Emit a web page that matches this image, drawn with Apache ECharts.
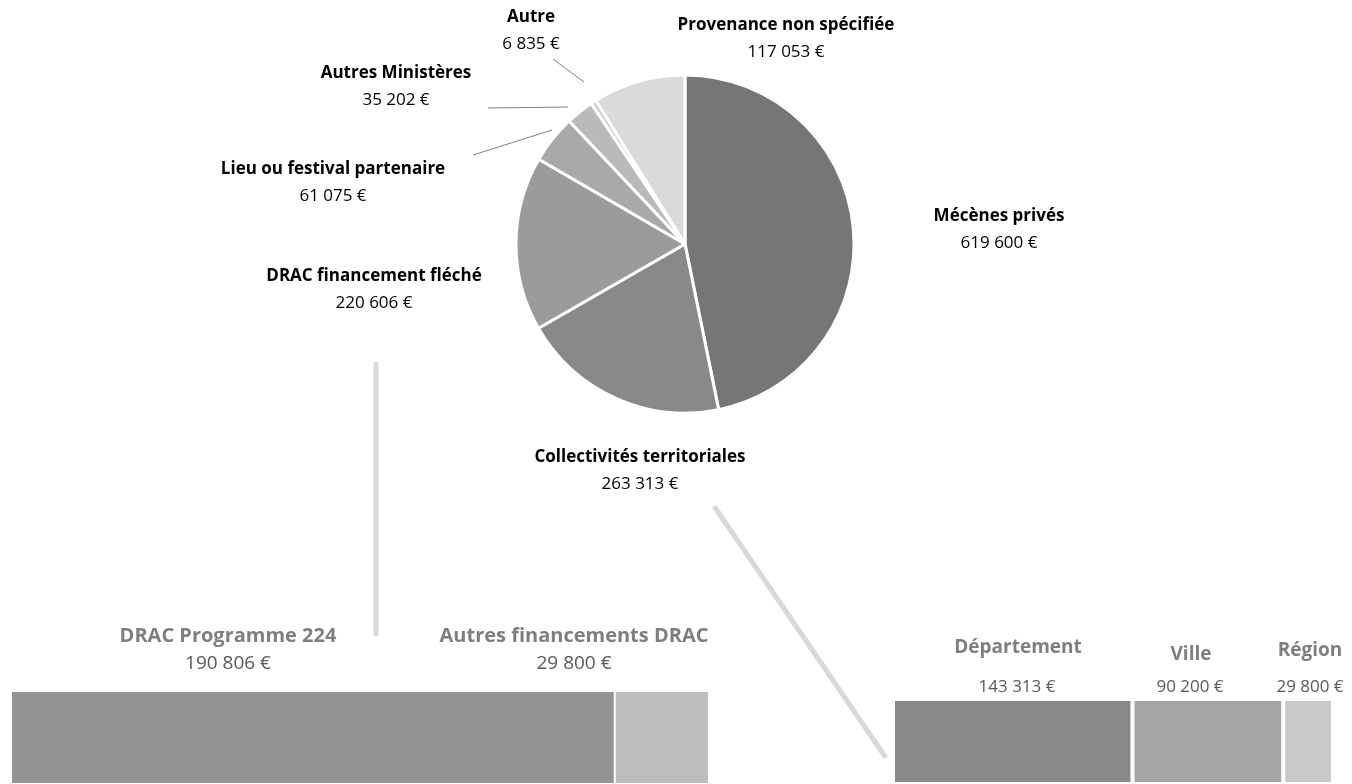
<!DOCTYPE html>
<html>
<head>
<meta charset="utf-8">
<script src="https://cdn.jsdelivr.net/npm/echarts@6/dist/echarts.min.js"></script>
<style>
  html, body { margin: 0; padding: 0; background: #fff; }
  #chart { width: 1352px; height: 784px; }
</style>
</head>
<body>
<div id="chart"></div>
<script>
// pie : sources de financement
const pieNames = ['Mécènes privés', 'Collectivités territoriales', 'DRAC financement fléché',
  'Lieu ou festival partenaire', 'Autres Ministères', 'Autre', 'Provenance non spécifiée'];
const pieValues = [619600, 263313, 220606, 61075, 35202, 6835, 117053];

// détail DRAC
const dracNames = ['DRAC Programme 224', 'Autres financements DRAC'];
const dracValues = [190806, 29800];

// détail collectivités
const collNames = ['Département', 'Ville', 'Région'];
const collValues = [143313, 90200, 29800];

// couleurs / positions des libellés (mise en page uniquement)
const pieColors = ['#767676', '#898989', '#9b9b9b', '#a9a9a9', '#bababa', '#c9c9c9', '#dadada'];
const pieLabelPos = [
  [999, 203], [640, 444], [374, 263], [333, 156], [396, 60], [531, 4], [786, 12]
];
const pieLabelLines = {
  3: [[552, 130], [473, 155]],
  4: [[568, 107], [488, 108]],
  5: [[584, 82], [553, 59]]
};
const dracColors = ['#939393', '#bdbdbd'];
const dracLabelPos = [[228, 623], [574, 623]];
const collColors = ['#898989', '#a5a5a5', '#c9c9c9'];
const collLabelPos = [[1018, 648], [1191, 655], [1310, 651]];
const collValuePos = [[1017, 687], [1190, 687], [1310, 687]];

const FONT = 'Open Sans';

function euro(v) {
  return String(v).replace(/\B(?=(\d{3})+(?!\d))/g, ' ') + ' €';
}

const myChart = echarts.init(document.getElementById('chart'));

function barSeries(names, values, colors, gridIndex, labelFn, layoutFn) {
  return names.map((name, i) => ({
    name: name,
    type: 'bar',
    stack: 'total' + gridIndex,
    xAxisIndex: gridIndex,
    yAxisIndex: gridIndex,
    barWidth: '100%',
    silent: true,
    itemStyle: { color: colors[i], borderColor: '#fff', borderWidth: gridIndex === 0 ? 1 : 2 },
    label: labelFn(name, values[i]),
    labelLayout: layoutFn(i),
    data: [values[i]]
  }));
}

const option = {
  animation: false,
  textStyle: { fontFamily: FONT },
  grid: [
    { left: 11, top: 691, width: 698, height: 140 },
    { left: 893, top: 699, width: 440, height: 140 }
  ],
  xAxis: [
    { gridIndex: 0, type: 'value', min: 0, max: dracValues.reduce((a, b) => a + b, 0), show: false },
    { gridIndex: 1, type: 'value', min: 0, max: collValues.reduce((a, b) => a + b, 0), show: false }
  ],
  yAxis: [
    { gridIndex: 0, type: 'category', data: ['DRAC'], show: false },
    { gridIndex: 1, type: 'category', data: ['Collectivités'], show: false }
  ],
  graphic: [
    { type: 'line', silent: true, shape: { x1: 376, y1: 362, x2: 376, y2: 636 },
      style: { stroke: '#d9d9d9', lineWidth: 5 } },
    { type: 'line', silent: true, shape: { x1: 714, y1: 506, x2: 886, y2: 758 },
      style: { stroke: '#d9d9d9', lineWidth: 5 } },
    ...collNames.map((n, i) => ({
      type: 'text', silent: true, x: collValuePos[i][0], y: collValuePos[i][1],
      style: { text: euro(collValues[i]), fill: '#595959', font: '17px "' + FONT + '"',
        align: 'center', verticalAlign: 'middle' }
    }))
  ],
  series: [
    {
      type: 'pie',
      center: [685, 244],
      radius: [0, 169],
      startAngle: 90,
      clockwise: true,
      silent: true,
      itemStyle: { borderColor: '#fff', borderWidth: 3 },
      label: {
        show: true,
        formatter: p => '{n|' + p.name + '}\n{v|' + euro(p.value) + '}',
        rich: {
          n: { fontFamily: FONT, fontWeight: 'bold', fontSize: 17, color: '#000', lineHeight: 27, align: 'center' },
          v: { fontFamily: FONT, fontSize: 17, color: '#000', lineHeight: 27, align: 'center' }
        }
      },
      labelLine: { show: true, lineStyle: { color: '#808080', width: 1 } },
      labelLayout: p => {
        const pos = pieLabelPos[p.dataIndex];
        const pts = pieLabelLines[p.dataIndex];
        return {
          x: pos[0], y: pos[1], align: 'center', verticalAlign: 'top',
          labelLinePoints: pts ? [pts[0], pts[0], pts[1]] : [[0, 0], [0, 0], [0, 0]]
        };
      },
      data: pieNames.map((n, i) => ({
        name: n, value: pieValues[i],
        itemStyle: { color: pieColors[i] },
        labelLine: { show: !!pieLabelLines[i] }
      }))
    },
    ...barSeries(dracNames, dracValues, dracColors, 0,
      (name, v) => ({
        show: true, position: 'top',
        formatter: '{n|' + name + '}\n{v|' + euro(v) + '}',
        rich: {
          n: { fontFamily: FONT, fontWeight: 'bold', fontSize: 20, color: '#7f7f7f', lineHeight: 27, align: 'center' },
          v: { fontFamily: FONT, fontSize: 19, color: '#595959', lineHeight: 27, align: 'center' }
        }
      }),
      i => () => ({ x: dracLabelPos[i][0], y: dracLabelPos[i][1], align: 'center', verticalAlign: 'top' })),
    ...barSeries(collNames, collValues, collColors, 1,
      (name) => ({
        show: true, position: 'top',
        formatter: name,
        fontFamily: FONT, fontWeight: 'bold', fontSize: 19, color: '#7f7f7f'
      }),
      i => () => ({ x: collLabelPos[i][0], y: collLabelPos[i][1], align: 'center', verticalAlign: 'middle' }))
  ]
};

myChart.setOption(option);
</script>
</body>
</html>
